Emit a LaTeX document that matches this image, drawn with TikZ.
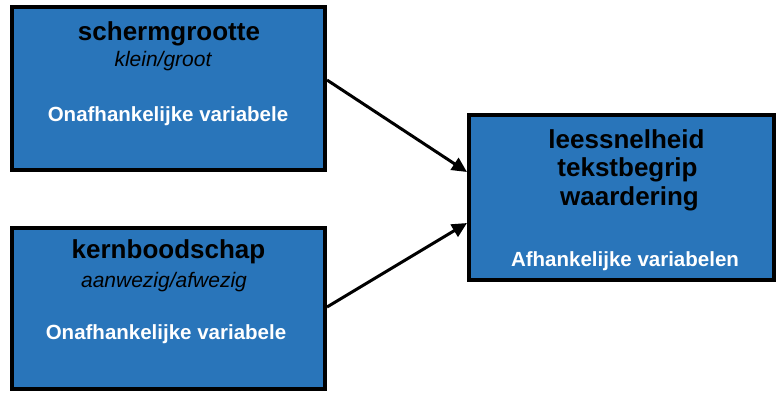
\documentclass[tikz,border=0pt]{standalone}
\usepackage{fontspec}
\setmainfont{Liberation Sans}
\usetikzlibrary{arrows.meta}
\definecolor{boxblue}{RGB}{41,117,186}
\tikzset{
  varbox/.style={draw=black, line width=4pt, fill=boxblue, inner sep=0pt, rectangle},
  title/.style={anchor=base, inner sep=0pt, font=\fontsize{26}{28}\selectfont\bfseries, text=black},
  levels/.style={anchor=base, inner sep=0pt, font=\fontsize{21}{24}\selectfont\itshape, text=black},
  kind/.style={anchor=base, inner sep=0pt, font=\fontsize{20.5}{23}\selectfont\bfseries, text=white},
  link/.style={line width=3pt, -{Triangle[length=15pt,width=14pt]}}
}
\begin{document}
\begin{tikzpicture}[x=1pt,y=-1pt]
\useasboundingbox (0,0) rectangle (776,392);
% boxes
\node[varbox, minimum width=313pt, minimum height=163pt] (b1) at (168.5,88.5) {};
\node[varbox, minimum width=313pt, minimum height=161pt] (b2) at (168.5,308.5) {};
\node[varbox, minimum width=305pt, minimum height=165pt] (b3) at (621.5,197.5) {};
% box 1 texts
\node[title] (t1) at (169,40) {schermgrootte};
\node[levels] (l1) at (163,66.7) {klein/groot};
\node[kind] (k1) at (168,121) {Onafhankelijke variabele};
% box 2 texts
\node[title] (t2) at (168.5,258.3) {kernboodschap};
\node[levels] (l2) at (164,287.7) {aanwezig/afwezig};
\node[kind] (k2) at (166,339) {Onafhankelijke variabele};
% box 3 texts
\node[title] (d1) at (626.5,148.3) {leessnelheid};
\node[title] (d2) at (627.5,176.7) {tekstbegrip};
\node[title] (d3) at (629.5,205) {waardering};
\node[kind] (k3) at (625,266) {Afhankelijke variabelen};
% arrows
\draw[link] ([yshift=8.5pt]b1.east) -- ([yshift=25.5pt]b3.west);
\draw[link] ([yshift=1.5pt]b2.east) -- ([yshift=-25.5pt]b3.west);
\end{tikzpicture}
\end{document}
